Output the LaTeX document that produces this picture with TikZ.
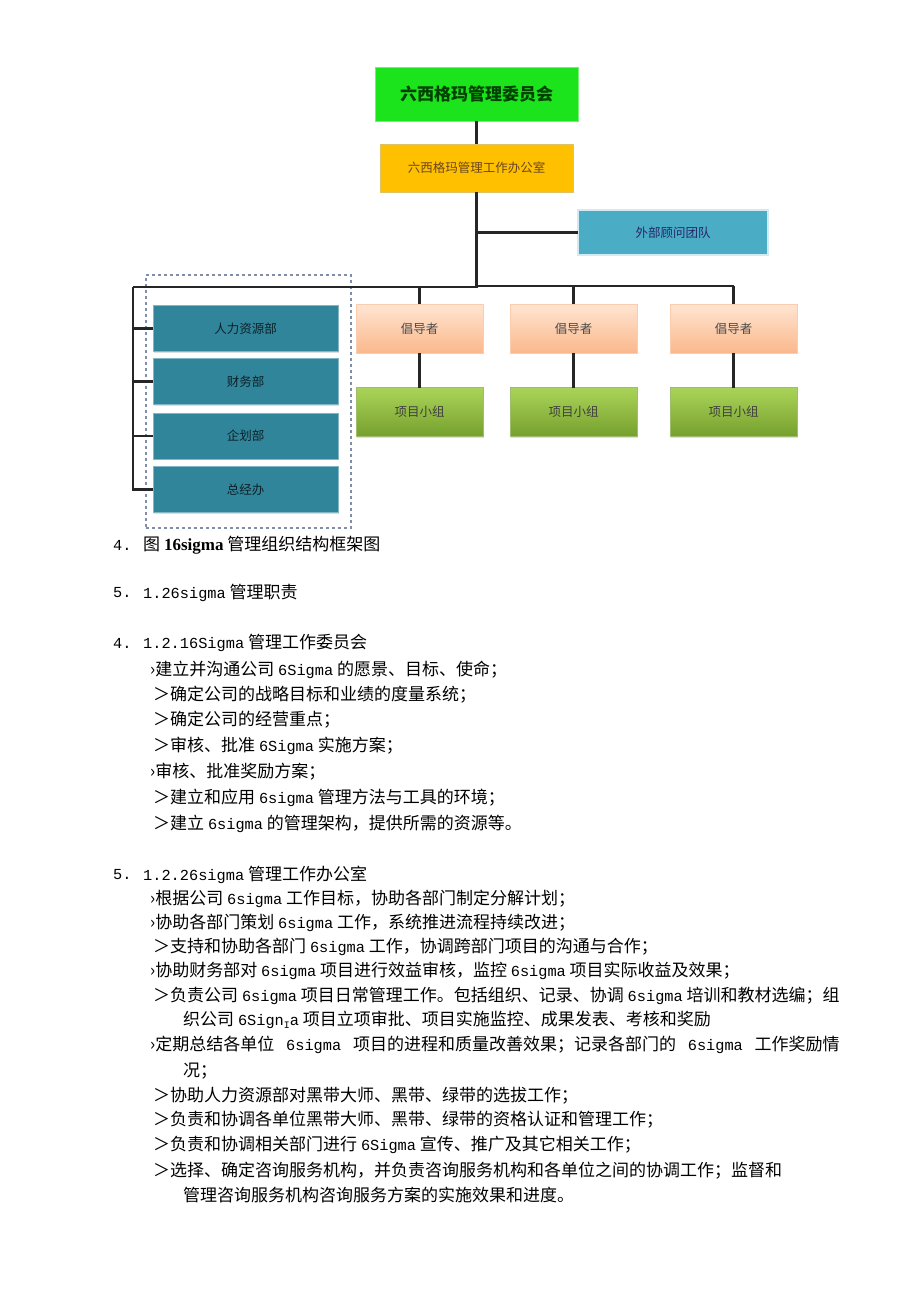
\documentclass[tikz,border=0pt]{standalone}
\usepackage{fontspec}
\newfontfamily\cjk{Noto Sans CJK SC}
\newfontfamily\latfont[Scale=0.9]{Liberation Mono}
\newfontfamily\capfont{Liberation Serif}
\newcommand\lat[1]{{\latfont #1}}
\usetikzlibrary{shadows,fit}
\definecolor{boardgreen}{RGB}{28,228,28}
\definecolor{officeorange}{RGB}{255,192,0}
\definecolor{advisorblue}{RGB}{75,172,198}
\definecolor{deptteal}{RGB}{49,133,155}
\definecolor{champtop}{RGB}{255,229,210}
\definecolor{champbot}{RGB}{250,184,140}
\definecolor{teamtop}{RGB}{170,212,88}
\definecolor{teambot}{RGB}{118,160,46}
\definecolor{groupline}{RGB}{128,142,170}

\begin{document}
\begin{tikzpicture}[x=1pt,y=-1pt,
  box/.style={rectangle,inner sep=0pt,outer sep=0pt,
    font=\cjk\fontsize{12.5}{14}\selectfont,
    drop shadow={shadow xshift=1.2pt,shadow yshift=-1.2pt,opacity=.25}},
  board/.style={box,fill=boardgreen,draw=boardgreen!60,text=green!25!black,
    minimum width=203pt,minimum height=54pt,
    font=\cjk\bfseries\fontsize{17}{20}\selectfont},
  office/.style={box,fill=officeorange,draw=officeorange!80!black!60,
    text=brown!55!black,minimum width=193pt,minimum height=48pt},
  advisor/.style={box,fill=advisorblue,draw=advisorblue!25,line width=1.5pt,
    text=blue!30!black!85,minimum width=190pt,minimum height=45pt},
  champ/.style={box,top color=champtop,bottom color=champbot,draw=champbot!70,
    text=black!70,minimum width=127pt,minimum height=49pt},
  team/.style={box,top color=teamtop,bottom color=teambot,draw=teambot!70,
    text=black!75,minimum width=127pt,minimum height=49pt},
  dept/.style={box,fill=deptteal,draw=deptteal!60,text=black!75!deptteal,
    minimum width=185pt,minimum height=46pt},
  link/.style={line width=2.2pt,black!85},
  body/.style={anchor=west,inner sep=0pt,font=\cjk\fontsize{17}{20}\selectfont},
  num/.style={body,font=\latfont\fontsize{17}{20}\selectfont}]
\useasboundingbox[fill=white] (0,0) rectangle (920,1301);

% organisation chart
\node[board] (board) at (476.5,94) {六西格玛管理委员会};
\node[office] (office) at (476.5,168) {六西格玛管理工作办公室};
\node[advisor] (advisor) at (673,232.5) {外部顾问团队};

\node[champ] (champ1) at (419.5,328.5) {倡导者};
\node[champ] (champ2) at (573.5,328.5) {倡导者};
\node[champ] (champ3) at (733.5,328.5) {倡导者};
\node[team] (team1) at (419.5,412) {项目小组};
\node[team] (team2) at (573.5,412) {项目小组};
\node[team] (team3) at (733.5,412) {项目小组};

\node[dept] (hr) at (245.5,328.5) {人力资源部};
\node[dept] (fin) at (245.5,381.5) {财务部};
\node[dept] (plan) at (245.5,436) {企划部};
\node[dept] (gm) at (245.5,489.5) {总经办};
\node[draw=groupline,dashed,line width=1.4pt,inner sep=0pt,
  fit={(146,275) (351,528)}] (depts) {};

\coordinate (busL) at (133,287);
\coordinate (busR) at (733.5,286);

\draw[link] (board) -- (office);
\draw[link] (office) -- (office.south |- busL);
\draw[link] (office.south |- advisor.west) -- (advisor);
\draw[link] (busL) -- (busL -| office.south) -- (office.south |- busR) -- (busR);
\foreach \i in {1,2,3} {
  \draw[link] (champ\i.north |- busR) -- (champ\i);
  \draw[link] (champ\i) -- (team\i);
}
\draw[link] (busL) |- (gm);
\foreach \d in {hr,fin,plan}
  \draw[link] (busL |- \d.west) -- (\d);

% caption and text
\node[num] (n1) at (113,545) {4.};
\node[body] (cap) at (143,545) {图 {\capfont\bfseries 16sigma} 管理组织结构框架图};
\node[num] (n2) at (113,593) {5.};
\node[body] (duty) at (143,593) {\lat{1.26sigma} 管理职责};

\node[num] (n3) at (113,643) {4.};
\node[body] (sec1) at (143,643) {\lat{1.2.16Sigma} 管理工作委员会};
\node[body] (a1) at (150,670) {›建立并沟通公司 \lat{6Sigma} 的愿景、目标、使命；};
\node[body] (a2) at (153,695) {＞确定公司的战略目标和业绩的度量系统；};
\node[body] (a3) at (153,720) {＞确定公司的经营重点；};
\node[body] (a4) at (153,746) {＞审核、批准 \lat{6Sigma} 实施方案；};
\node[body] (a5) at (150,772) {›审核、批准奖励方案；};
\node[body] (a6) at (153,798) {＞建立和应用 \lat{6sigma} 管理方法与工具的环境；};
\node[body] (a7) at (153,824) {＞建立 \lat{6sigma} 的管理架构，提供所需的资源等。};

\node[num] (n4) at (113,875) {5.};
\node[body] (sec2) at (143,875) {\lat{1.2.26sigma} 管理工作办公室};
\node[body] (b1) at (150,899) {›根据公司 \lat{6sigma} 工作目标，协助各部门制定分解计划；};
\node[body] (b2) at (150,923) {›协助各部门策划 \lat{6sigma} 工作，系统推进流程持续改进；};
\node[body] (b3) at (153,947) {＞支持和协助各部门 \lat{6sigma} 工作，协调跨部门项目的沟通与合作；};
\node[body] (b4) at (150,971) {›协助财务部对 \lat{6sigma} 项目进行效益审核，监控 \lat{6sigma} 项目实际收益及效果；};
\node[body] (b5) at (153,996) {＞负责公司 \lat{6sigma} 项目日常管理工作。包括组织、记录、协调 \lat{6sigma} 培训和教材选编；组};
\node[body] (b5b) at (183,1020) {织公司 \lat{6Sign\raisebox{-.4ex}{\fontsize{11}{11}\selectfont I}a} 项目立项审批、项目实施监控、成果发表、考核和奖励};
\node[body] (b6) at (150,1045) {›定期总结各单位\hspace{8pt} \lat{6sigma}\hspace{8pt} 项目的进程和质量改善效果；记录各部门的\hspace{8pt} \lat{6sigma}\hspace{8pt} 工作奖励情};
\node[body] (b6b) at (183,1071) {况；};
\node[body] (b7) at (153,1096) {＞协助人力资源部对黑带大师、黑带、绿带的选拔工作；};
\node[body] (b8) at (153,1120) {＞负责和协调各单位黑带大师、黑带、绿带的资格认证和管理工作；};
\node[body] (b9) at (153,1145) {＞负责和协调相关部门进行 \lat{6Sigma} 宣传、推广及其它相关工作；};
\node[body] (b10) at (153,1171) {＞选择、确定咨询服务机构，并负责咨询服务机构和各单位之间的协调工作；监督和};
\node[body] (b10b) at (183,1195) {管理咨询服务机构咨询服务方案的实施效果和进度。};
\end{tikzpicture}
\end{document}
